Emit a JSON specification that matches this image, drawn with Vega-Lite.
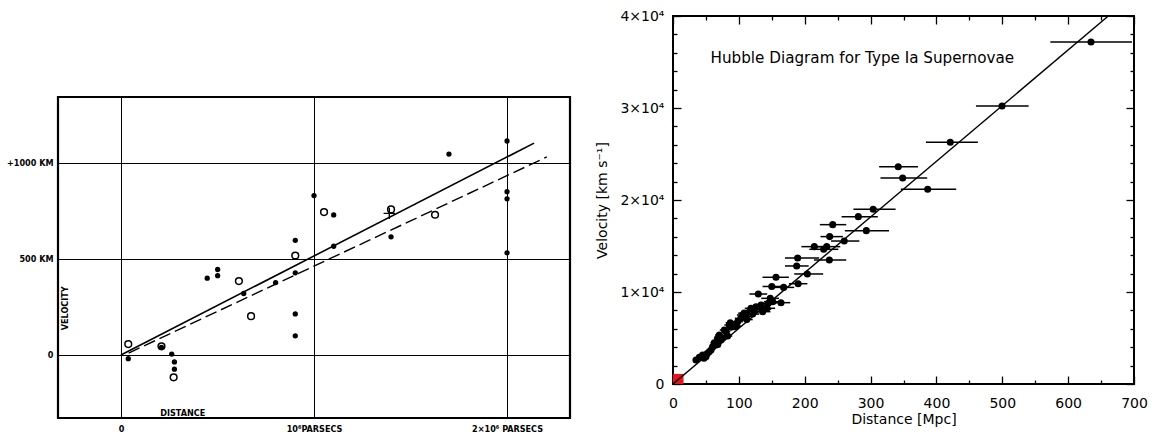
{
  "$schema": "https://vega.github.io/schema/vega-lite/v6.json",
  "background": "white",
  "padding": {"left": 5, "top": 8, "right": 0, "bottom": 0},
  "spacing": 22,
  "datasets": {
    "h29": [
      {"d": 0.038, "v": -19, "kind": "filled"},
      {"d": 0.21, "v": 40, "kind": "filled"},
      {"d": 0.263, "v": 5, "kind": "filled"},
      {"d": 0.277, "v": -36, "kind": "filled"},
      {"d": 0.277, "v": -74, "kind": "filled"},
      {"d": 0.447, "v": 400, "kind": "filled"},
      {"d": 0.501, "v": 445, "kind": "filled"},
      {"d": 0.501, "v": 413, "kind": "filled"},
      {"d": 0.636, "v": 320, "kind": "filled"},
      {"d": 0.801, "v": 377, "kind": "filled"},
      {"d": 0.903, "v": 597, "kind": "filled"},
      {"d": 0.903, "v": 428, "kind": "filled"},
      {"d": 0.903, "v": 214, "kind": "filled"},
      {"d": 0.903, "v": 100, "kind": "filled"},
      {"d": 1.0, "v": 830, "kind": "filled"},
      {"d": 1.102, "v": 729, "kind": "filled"},
      {"d": 1.102, "v": 566, "kind": "filled"},
      {"d": 1.399, "v": 615, "kind": "filled"},
      {"d": 1.699, "v": 1046, "kind": "filled"},
      {"d": 2.0, "v": 1114, "kind": "filled"},
      {"d": 2.0, "v": 850, "kind": "filled"},
      {"d": 2.0, "v": 813, "kind": "filled"},
      {"d": 2.0, "v": 532, "kind": "filled"},
      {"d": 0.038, "v": 57, "kind": "open"},
      {"d": 0.21, "v": 45, "kind": "open"},
      {"d": 0.273, "v": -116, "kind": "open"},
      {"d": 0.611, "v": 385, "kind": "open"},
      {"d": 0.674, "v": 202, "kind": "open"},
      {"d": 0.903, "v": 518, "kind": "open"},
      {"d": 1.052, "v": 744, "kind": "open"},
      {"d": 1.399, "v": 758, "kind": "open"},
      {"d": 1.627, "v": 730, "kind": "open"},
      {"d": 1.39, "v": 737, "kind": "cross"}
    ],
    "fit29": [
      {"d": 0, "v": 0, "fit": "solid"},
      {"d": 2.14, "v": 1103, "fit": "solid"},
      {"d": 0.04, "v": 10, "fit": "dashed"},
      {"d": 2.206, "v": 1031, "fit": "dashed"}
    ],
    "sn": [
      {"d": 634.7, "v": 37180, "lo": 573, "hi": 697},
      {"d": 499.6, "v": 30220, "lo": 460, "hi": 540},
      {"d": 421, "v": 26270, "lo": 384, "hi": 463},
      {"d": 342, "v": 23620, "lo": 313, "hi": 372},
      {"d": 348.7, "v": 22390, "lo": 315, "hi": 386},
      {"d": 386.7, "v": 21160, "lo": 346, "hi": 430},
      {"d": 304, "v": 18990, "lo": 274, "hi": 338},
      {"d": 281.4, "v": 18190, "lo": 256, "hi": 311},
      {"d": 293.5, "v": 16670, "lo": 261, "hi": 328},
      {"d": 242.5, "v": 17320, "lo": 223, "hi": 263},
      {"d": 237.9, "v": 16020, "lo": 224, "hi": 258},
      {"d": 260, "v": 15540, "lo": 240, "hi": 283},
      {"d": 214.6, "v": 14930, "lo": 195, "hi": 236},
      {"d": 228.8, "v": 14640, "lo": 207, "hi": 251},
      {"d": 233.4, "v": 14930, "lo": 213, "hi": 254},
      {"d": 189.3, "v": 13700, "lo": 170, "hi": 222},
      {"d": 237.4, "v": 13480, "lo": 214, "hi": 263},
      {"d": 187.8, "v": 12830, "lo": 170, "hi": 206},
      {"d": 204, "v": 11960, "lo": 184, "hi": 228},
      {"d": 190, "v": 10900, "lo": 176, "hi": 204},
      {"d": 168, "v": 10500, "lo": 152, "hi": 184},
      {"d": 150, "v": 10600, "lo": 136, "hi": 165},
      {"d": 156.4, "v": 11600, "lo": 136, "hi": 176},
      {"d": 129.5, "v": 9780, "lo": 116, "hi": 143},
      {"d": 164, "v": 8840, "lo": 150, "hi": 178},
      {"d": 147.7, "v": 9310, "lo": 134, "hi": 161},
      {"d": 151.4, "v": 8950, "lo": 138, "hi": 165},
      {"d": 136.7, "v": 8120, "lo": 124, "hi": 149},
      {"d": 144.7, "v": 8770, "lo": 132, "hi": 157},
      {"d": 142.7, "v": 8230, "lo": 130, "hi": 155},
      {"d": 136.2, "v": 7860, "lo": 124, "hi": 148},
      {"d": 133.6, "v": 8590, "lo": 122, "hi": 145},
      {"d": 126, "v": 8400, "lo": 115, "hi": 137},
      {"d": 123.4, "v": 8040, "lo": 113, "hi": 134},
      {"d": 121, "v": 7600, "lo": 111, "hi": 131},
      {"d": 118.4, "v": 8230, "lo": 109, "hi": 128},
      {"d": 115.9, "v": 7860, "lo": 106, "hi": 126},
      {"d": 112, "v": 7000, "lo": 103, "hi": 121},
      {"d": 110.8, "v": 7320, "lo": 101, "hi": 120},
      {"d": 108, "v": 7700, "lo": 99, "hi": 117},
      {"d": 105.8, "v": 7500, "lo": 97, "hi": 115},
      {"d": 103, "v": 7140, "lo": 94, "hi": 112},
      {"d": 98.2, "v": 6770, "lo": 90, "hi": 106},
      {"d": 96, "v": 6300, "lo": 88, "hi": 104},
      {"d": 93, "v": 6230, "lo": 85, "hi": 101},
      {"d": 88, "v": 6160, "lo": 81, "hi": 95},
      {"d": 87, "v": 6660, "lo": 80, "hi": 94},
      {"d": 85.5, "v": 6410, "lo": 78, "hi": 93},
      {"d": 83, "v": 5220, "lo": 76, "hi": 90},
      {"d": 80.5, "v": 5690, "lo": 74, "hi": 87},
      {"d": 77.9, "v": 5870, "lo": 71, "hi": 85},
      {"d": 75, "v": 5000, "lo": 69, "hi": 81},
      {"d": 72.9, "v": 4780, "lo": 67, "hi": 79},
      {"d": 70.3, "v": 5330, "lo": 64, "hi": 76},
      {"d": 68, "v": 4300, "lo": 63, "hi": 73},
      {"d": 67.8, "v": 4960, "lo": 62, "hi": 74},
      {"d": 65.3, "v": 4240, "lo": 60, "hi": 71},
      {"d": 62.7, "v": 4490, "lo": 57, "hi": 68},
      {"d": 60.3, "v": 4060, "lo": 55, "hi": 66},
      {"d": 57.7, "v": 3700, "lo": 53, "hi": 63},
      {"d": 55, "v": 3510, "lo": 50, "hi": 60},
      {"d": 52, "v": 3300, "lo": 48, "hi": 56},
      {"d": 50, "v": 2970, "lo": 46, "hi": 54},
      {"d": 47, "v": 2800, "lo": 43, "hi": 51},
      {"d": 45, "v": 3150, "lo": 41, "hi": 49},
      {"d": 40, "v": 2900, "lo": 37, "hi": 43},
      {"d": 34.9, "v": 2610, "lo": 32, "hi": 38}
    ],
    "fitsn": [
      {"d": 0, "v": 0},
      {"d": 661, "v": 40000}
    ]
  },
  "hconcat": [
    {
      "bounds": "flush",
      "spacing": 0,
      "vconcat": [
        {
          "width": 512,
          "height": 81,
          "data": {"values": [{}]},
          "mark": {"type": "point", "opacity": 0},
          "view": {"stroke": null}
        },
        {
          "width": 512,
          "height": 321,
          "view": {"stroke": "black", "strokeWidth": 2.2},
          "encoding": {
            "x": {
              "field": "d",
              "type": "quantitative",
              "scale": {"domain": [-0.326, 2.326], "nice": false, "zero": false},
              "axis": {
                "values": [0, 1, 2],
                "grid": true,
                "gridColor": "black",
                "gridWidth": 1,
                "gridOpacity": 1,
                "ticks": false,
                "domain": false,
                "labelFlush": false,
                "labelExpr": "datum.value == 0 ? '0' : datum.value == 1 ? '10⁶PARSECS' : '2×10⁶ PARSECS'",
                "labelFont": "DejaVu Sans Condensed",
                "labelFontWeight": "bold",
                "labelFontSize": 9,
                "labelColor": "black",
                "labelPadding": 6,
                "title": null
              }
            },
            "y": {
              "field": "v",
              "type": "quantitative",
              "scale": {"domain": [-328, 1343], "nice": false, "zero": false},
              "axis": {
                "values": [0, 500, 1000],
                "grid": true,
                "gridColor": "black",
                "gridWidth": 1,
                "gridOpacity": 1,
                "ticks": false,
                "domain": false,
                "labelExpr": "datum.value == 0 ? '0' : datum.value == 500 ? '500 KM' : '+1000 KM'",
                "labelFont": "DejaVu Sans Condensed",
                "labelFontWeight": "bold",
                "labelFontSize": 9,
                "labelColor": "black",
                "labelPadding": 5,
                "title": null
              }
            }
          },
          "layer": [
            {
              "data": {"name": "fit29"},
              "transform": [{"filter": "datum.fit == 'solid'"}],
              "mark": {"type": "line", "color": "black", "strokeWidth": 1.6}
            },
            {
              "data": {"name": "fit29"},
              "transform": [{"filter": "datum.fit == 'dashed'"}],
              "mark": {"type": "line", "color": "black", "strokeWidth": 1.4, "strokeDash": [12, 5]}
            },
            {
              "data": {"name": "h29"},
              "transform": [{"filter": "datum.kind == 'filled'"}],
              "mark": {"type": "circle", "color": "black", "opacity": 1, "size": 28}
            },
            {
              "data": {"name": "h29"},
              "transform": [{"filter": "datum.kind == 'open'"}],
              "mark": {"type": "point", "shape": "circle", "filled": false, "color": "black", "opacity": 1, "size": 45, "strokeWidth": 1.5}
            },
            {
              "data": {"name": "h29"},
              "transform": [{"filter": "datum.kind == 'cross'"}],
              "mark": {"type": "point", "shape": "M -1 0 L 1 0 M 0 -1 L 0 1", "filled": false, "color": "black", "opacity": 1, "size": 130, "strokeWidth": 1.4}
            },
            {
              "data": {"values": [{"d": -0.29, "v": 243, "label": "VELOCITY"}]},
              "mark": {"type": "text", "angle": 270, "font": "DejaVu Sans Condensed", "fontWeight": "bold", "fontSize": 9, "color": "black"},
              "encoding": {"text": {"field": "label"}}
            },
            {
              "data": {"values": [{"d": 0.32, "v": -300, "label": "DISTANCE"}]},
              "mark": {"type": "text", "font": "DejaVu Sans Condensed", "fontWeight": "bold", "fontSize": 9, "color": "black"},
              "encoding": {"text": {"field": "label"}}
            }
          ]
        }
      ]
    },
    {
      "width": 461,
      "height": 368,
      "view": {"stroke": "black", "strokeWidth": 2},
      "resolve": {"axis": {"x": "independent", "y": "independent"}},
      "layer": [
        {
          "data": {"values": [{"x0": 0, "x1": 16, "y0": 0, "y1": 1100}]},
          "mark": {"type": "rect", "color": "#e8141c", "opacity": 1},
          "encoding": {
            "x": {
              "field": "x0", "type": "quantitative",
              "scale": {"domain": [0, 700], "nice": false, "zero": false},
              "axis": {
                "orient": "bottom", "values": [0, 100, 200, 300, 400, 500, 600, 700],
                "ticks": false, "domain": false, "grid": false, "labelFlush": false,
                "labelFont": "DejaVu Sans", "labelFontSize": 14, "labelColor": "black", "labelPadding": 12,
                "title": "Distance [Mpc]", "titleFont": "DejaVu Sans", "titleFontSize": 14, "titleFontWeight": "normal", "titleColor": "black", "titlePadding": 2
              }
            },
            "x2": {"field": "x1"},
            "y": {
              "field": "y0", "type": "quantitative",
              "scale": {"domain": [0, 40000], "nice": false, "zero": false},
              "axis": {
                "orient": "left", "values": [0, 10000, 20000, 30000, 40000],
                "ticks": false, "domain": false, "grid": false,
                "labelExpr": "datum.value == 0 ? '0' : (datum.value / 10000) + '×10⁴'",
                "labelFont": "DejaVu Sans", "labelFontSize": 14, "labelColor": "black", "labelPadding": 9,
                "title": "Velocity [km s⁻¹]", "titleFont": "DejaVu Sans", "titleFontSize": 14, "titleFontWeight": "normal", "titleColor": "black", "titlePadding": 10
              }
            },
            "y2": {"field": "y1"}
          }
        },
        {
          "data": {"name": "sn"},
          "mark": {"type": "rule", "color": "black", "strokeWidth": 1.5, "clip": true},
          "encoding": {
            "x": {
              "field": "lo", "type": "quantitative",
              "scale": {"domain": [0, 700], "nice": false, "zero": false},
              "axis": {
                "orient": "bottom", "values": [0, 100, 200, 300, 400, 500, 600, 700],
                "labels": false, "domain": false, "grid": false, "title": null,
                "tickSize": -8, "tickWidth": 1.3, "tickColor": "black"
              }
            },
            "x2": {"field": "hi"},
            "y": {
              "field": "v", "type": "quantitative",
              "scale": {"domain": [0, 40000], "nice": false, "zero": false},
              "axis": {
                "orient": "left", "values": [0, 10000, 20000, 30000, 40000],
                "labels": false, "domain": false, "grid": false, "title": null,
                "tickSize": -8, "tickWidth": 1.3, "tickColor": "black"
              }
            }
          }
        },
        {
          "data": {"name": "sn"},
          "mark": {"type": "circle", "color": "black", "opacity": 1, "size": 50},
          "encoding": {
            "x": {
              "field": "d", "type": "quantitative",
              "scale": {"domain": [0, 700], "nice": false, "zero": false},
              "axis": {
                "orient": "bottom", "values": [50, 150, 250, 350, 450, 550, 650],
                "labels": false, "domain": false, "grid": false, "title": null,
                "tickSize": -4, "tickWidth": 1.3, "tickColor": "black"
              }
            },
            "y": {
              "field": "v", "type": "quantitative",
              "scale": {"domain": [0, 40000], "nice": false, "zero": false},
              "axis": {
                "orient": "left", "values": [2000, 4000, 6000, 8000, 12000, 14000, 16000, 18000, 22000, 24000, 26000, 28000, 32000, 34000, 36000, 38000],
                "labels": false, "domain": false, "grid": false, "title": null,
                "tickSize": -4, "tickWidth": 1.3, "tickColor": "black"
              }
            }
          }
        },
        {
          "data": {"name": "fitsn"},
          "mark": {"type": "line", "color": "black", "strokeWidth": 1.4, "clip": true},
          "encoding": {
            "x": {
              "field": "d", "type": "quantitative",
              "scale": {"domain": [0, 700], "nice": false, "zero": false},
              "axis": {
                "orient": "top", "values": [0, 100, 200, 300, 400, 500, 600, 700],
                "labels": false, "domain": false, "grid": false, "title": null,
                "tickSize": -8, "tickWidth": 1.3, "tickColor": "black"
              }
            },
            "y": {
              "field": "v", "type": "quantitative",
              "scale": {"domain": [0, 40000], "nice": false, "zero": false},
              "axis": {
                "orient": "right", "values": [0, 10000, 20000, 30000, 40000],
                "labels": false, "domain": false, "grid": false, "title": null,
                "tickSize": -8, "tickWidth": 1.3, "tickColor": "black"
              }
            }
          }
        },
        {
          "data": {"values": [{"d": 57, "v": 35440, "label": "Hubble Diagram for Type Ia Supernovae"}]},
          "mark": {"type": "text", "align": "left", "baseline": "middle", "font": "DejaVu Sans", "fontSize": 15.2, "color": "black"},
          "encoding": {
            "x": {
              "field": "d", "type": "quantitative",
              "scale": {"domain": [0, 700], "nice": false, "zero": false},
              "axis": {
                "orient": "top", "values": [50, 150, 250, 350, 450, 550, 650],
                "labels": false, "domain": false, "grid": false, "title": null,
                "tickSize": -4, "tickWidth": 1.3, "tickColor": "black"
              }
            },
            "y": {
              "field": "v", "type": "quantitative",
              "scale": {"domain": [0, 40000], "nice": false, "zero": false},
              "axis": {
                "orient": "right", "values": [2000, 4000, 6000, 8000, 12000, 14000, 16000, 18000, 22000, 24000, 26000, 28000, 32000, 34000, 36000, 38000],
                "labels": false, "domain": false, "grid": false, "title": null,
                "tickSize": -4, "tickWidth": 1.3, "tickColor": "black"
              }
            },
            "text": {"field": "label"}
          }
        }
      ]
    }
  ]
}
